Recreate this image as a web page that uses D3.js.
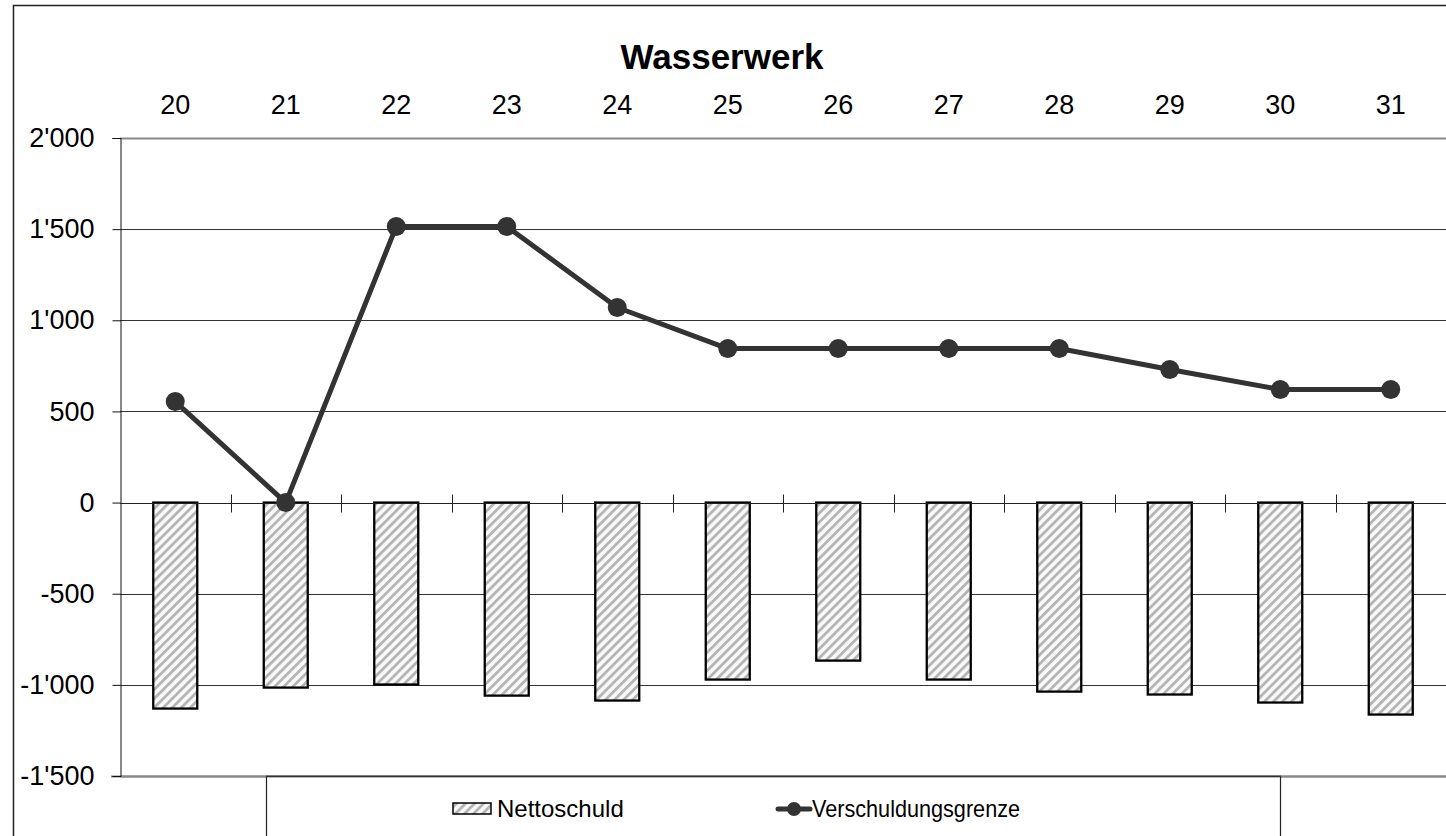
<!DOCTYPE html>
<html><head><meta charset="utf-8">
<script src="https://cdn.jsdelivr.net/npm/d3@7"></script>
<style>body{margin:0;background:#fff}svg{display:block;font-family:"Liberation Sans",Arial,sans-serif}</style>
</head><body>
<svg id="c" width="1446" height="836"></svg>
<script>
const categories = ["20","21","22","23","24","25","26","27","28","29","30","31"];
const nettoschuld = [-1130,-1015,-998,-1059,-1086,-971,-867,-971,-1037,-1053,-1097,-1163];
const verschuldungsgrenze = [554,0,1515,1515,1070,845,845,845,845,730,620,620];
const yTicks = [2000,1500,1000,500,0,-500,-1000,-1500];
const title = "Wasserwerk";
const legendLabels = ["Nettoschuld","Verschuldungsgrenze"];

const svg = d3.select("#c");
const defs = svg.append("defs");
const pat = defs.append("pattern").attr("id","hatch").attr("patternUnits","userSpaceOnUse")
  .attr("width",6.4).attr("height",10).attr("patternTransform","rotate(45)");
pat.append("rect").attr("width",6.4).attr("height",10).attr("fill","#f9f9f9");
pat.append("rect").attr("width",2.8).attr("height",10).attr("fill","#b5b5b5");

const L=120, R=1446, T=138, B=776;
const x = d3.scaleBand().domain(categories).range([L,R]);
const y = d3.scaleLinear().domain([-1500,2000]).range([B,T]);
const fmt = v => d3.format(",")(v).replace(/,/g,"'").replace("−","-");

// outer frame
svg.append("rect").attr("x",13.5).attr("y",5.5).attr("width",1500).attr("height",1000)
  .attr("fill","none").attr("stroke","#222").attr("stroke-width",1.5);

// gridlines
svg.append("g").selectAll("line").data(yTicks).join("line")
  .attr("x1",L).attr("x2",R).attr("y1",d=>Math.round(y(d))+0.5).attr("y2",d=>Math.round(y(d))+0.5)
  .attr("stroke",d=>(d===2000||d===-1500)?"#888":"#333").attr("stroke-width",d=>(d===2000||d===-1500)?1.8:1);
svg.append("line").attr("x1",111).attr("x2",R).attr("y1",B+0.5).attr("y2",B+0.5).attr("stroke","#888").attr("stroke-width",1.8);

// y axis
const yAxis = d3.axisLeft(y).tickValues(yTicks).tickSize(8).tickPadding(18).tickFormat(fmt);
const ya = svg.append("g").attr("transform",`translate(${L+0.5},0)`).call(yAxis);
ya.select(".domain").attr("stroke","#111").attr("stroke-width",1);
ya.selectAll(".tick line").attr("stroke","#111");
ya.selectAll("text").attr("font-size",27).attr("fill","#000").attr("font-family","Liberation Sans, Arial, sans-serif");

// top category labels
svg.append("g").selectAll("text").data(categories).join("text")
  .attr("x",d=>x(d)+x.bandwidth()/2).attr("y",114).attr("text-anchor","middle")
  .attr("font-size",27).attr("fill","#000").text(d=>d);

// title
svg.append("text").attr("x",722).attr("y",69).attr("text-anchor","middle")
  .attr("font-size",35).attr("font-weight","bold").attr("fill","#000").text(title);

// bars
const bw = 44;
svg.append("g").selectAll("rect").data(categories).join("rect")
  .attr("x",d=>x(d)+x.bandwidth()/2-bw/2).attr("width",bw)
  .attr("y",(d,i)=>y(Math.max(0,nettoschuld[i])))
  .attr("height",(d,i)=>Math.abs(y(nettoschuld[i])-y(0)))
  .attr("fill","url(#hatch)").attr("stroke","#000").attr("stroke-width",2.3);

// zero axis with crossing ticks
const y0 = Math.round(y(0))+0.5;
svg.append("line").attr("x1",L).attr("x2",R).attr("y1",y0).attr("y2",y0).attr("stroke","#222").attr("stroke-width",1);
const bounds = categories.map(c=>x(c)).slice(1).concat([x(categories[categories.length-1])+x.bandwidth()]);
svg.append("g").selectAll("line").data(bounds).join("line")
  .attr("x1",d=>Math.round(d)+0.5).attr("x2",d=>Math.round(d)+0.5).attr("y1",y0-9).attr("y2",y0+9)
  .attr("stroke","#222").attr("stroke-width",1);

// line
const line = d3.line().x((d,i)=>x(categories[i])+x.bandwidth()/2).y(d=>y(d));
svg.append("path").datum(verschuldungsgrenze).attr("d",line).attr("fill","none")
  .attr("stroke","#333").attr("stroke-width",5).attr("stroke-linejoin","round");
svg.append("g").selectAll("circle").data(verschuldungsgrenze).join("circle")
  .attr("cx",(d,i)=>x(categories[i])+x.bandwidth()/2).attr("cy",d=>y(d)).attr("r",9.5).attr("fill","#333");

// legend box
svg.append("rect").attr("x",266.5).attr("y",B+0.5).attr("width",1280-266).attr("height",200)
  .attr("fill","#fff").attr("stroke","#222").attr("stroke-width",1.2);
svg.append("line").attr("x1",266).attr("x2",1281).attr("y1",B+0.5).attr("y2",B+0.5).attr("stroke","#333").attr("stroke-width",1.5);
svg.append("rect").attr("x",453).attr("y",803).attr("width",38).attr("height",11)
  .attr("fill","url(#hatch)").attr("stroke","#000").attr("stroke-width",1.5);
svg.append("text").attr("x",497).attr("y",817).attr("font-size",24).attr("fill","#000").text(legendLabels[0]);
svg.append("line").attr("x1",778).attr("x2",810).attr("y1",809).attr("y2",809).attr("stroke","#333").attr("stroke-width",5).attr("stroke-linecap","round");
svg.append("circle").attr("cx",794).attr("cy",809).attr("r",7).attr("fill","#333");
svg.append("text").attr("x",812).attr("y",817).attr("font-size",24).attr("fill","#000")
  .attr("textLength",208).attr("lengthAdjust","spacingAndGlyphs").text(legendLabels[1]);
</script>
</body></html>
